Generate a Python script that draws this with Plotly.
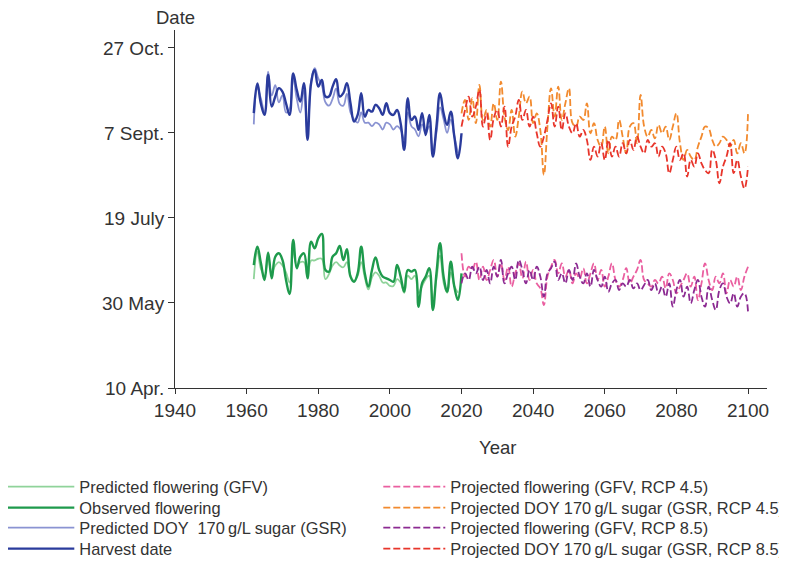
import plotly.graph_objects as go

# ---------------- data (DOY values) ----------------
hist_years = list(range(1962, 2020))
harvest_years = list(range(1962, 2021))

harvest_date = [261.6, 279, 267, 260.6, 284, 265.5, 271.4, 276.3, 274.3, 267.4,
                260.6, 285, 275.3, 268.4, 279.2, 245.9, 279.2, 287, 277.2, 281.2,
                271.4, 271.4, 277.2, 281.6, 271.4, 273.4, 279.2, 267.4, 256.7, 260.6,
                273.4, 259.6, 263.5, 262.5, 266.5, 264.5, 260.6, 267.4, 261.6, 260.6,
                263.5, 255.7, 240, 270.4, 257.6, 259.6, 251.8, 261.6, 248.8, 260.6,
                236.1, 253.7, 273.4, 261.6, 254.7, 262.5, 247.8, 235.1, 249.8]

predicted_gsr = [255, 276, 270, 262, 286, 272, 278, 268, 272, 262,
                 264, 282, 270, 262, 275, 250, 280, 288, 282, 278,
                 268, 266, 270, 276, 267, 266, 273, 262, 258, 256,
                 262, 256, 256, 254, 256, 255, 252, 256, 255, 252,
                 254, 252, 246, 262, 254, 252, 248, 255, 250, 254,
                 240, 250, 265, 258, 250, 258, 248, 238]

observed_flowering = [172.3, 183.1, 173.3, 163.5, 179.6, 164.5, 177.2, 179.2, 175.3, 163.5,
                      155.3, 187, 170.4, 177.2, 179.2, 164.5, 186, 182.1, 188, 190.6,
                      169.4, 168.4, 177.2, 179.2, 183.5, 175.3, 181.6, 165.5, 162.5, 167.4,
                      183.1, 167.4, 159.6, 169.4, 176.8, 169.4, 165.5, 164.5, 163.5, 162.5,
                      172.3, 165.5, 156.7, 169.4, 168.4, 169.4, 147.8, 161.6, 165.5, 170.4,
                      145.9, 167.4, 185.1, 165.5, 156.7, 174.3, 159.6, 151.8, 167.4]

predicted_gfv = [164, 180, 170, 166, 176, 168, 172, 174, 172, 168,
                 162, 180, 172, 174, 174, 166, 175, 175, 176, 176,
                 164, 167, 172, 174, 172, 171, 174, 166, 163, 166,
                 174, 165, 158, 165, 168, 166, 162, 162, 160, 160,
                 164, 162, 156, 166, 164, 166, 156, 160, 164, 166,
                 152, 164, 178, 162, 156, 168, 160, 156]

proj_years = list(range(2020, 2101))

proj_gsr_45 = [261.5, 269.4, 257.6, 270.4, 255.7, 278.2, 257.6, 263.5, 253.7, 267.4,
               257.6, 280.2, 259.6, 251.7, 263.5, 247.8, 259.6, 274.3, 267.4, 271.3,
               255.7, 261.5, 251.7, 225.3, 253.7, 276.2, 259.6, 277.2, 257.6, 267.4,
               276.2, 255.7, 253.7, 259.6, 257.6, 267.4, 249.8, 255.7, 245.9, 241.9,
               253.7, 238.0, 247.8, 245.9, 257.6, 247.8, 238.0, 253.7, 255.7, 243.9,
               272.3, 253.7, 247.8, 251.7, 246.8, 254.7, 249.8, 253.7, 245.9, 253.7,
               261.5, 243.9, 234.1, 240.0, 236.1, 234.1, 241.9, 247.8, 253.7, 252.7,
               245.9, 241.9, 243.9, 247.8, 245.9, 241.9, 245.9, 238.0, 243.9, 238.0,
               261.5]

proj_gsr_85 = [253.7, 263.5, 271.3, 259.6, 265.5, 275.3, 253.7, 261.5, 245.9, 258.6,
               263.5, 253.7, 265.5, 241.9, 253.7, 259.6, 269.4, 257.6, 263.5, 253.7,
               259.6, 249.8, 241.9, 247.8, 257.6, 267.4, 253.7, 265.5, 251.7, 261.5,
               253.7, 249.8, 255.7, 247.8, 251.7, 245.9, 234.1, 241.9, 236.1, 243.9,
               234.1, 245.9, 236.1, 241.9, 236.1, 243.9, 238.0, 245.9, 240.0, 247.8,
               241.9, 238.0, 245.9, 241.9, 243.9, 236.1, 241.9, 238.0, 226.3, 234.1,
               241.9, 234.1, 238.0, 224.3, 234.1, 230.2, 238.0, 232.1, 228.2, 226.3,
               240.0, 234.1, 220.4, 230.2, 236.1, 243.9, 226.3, 234.1, 224.3, 217.4,
               230.2]

proj_gfv_45 = [179.2, 165.5, 171.3, 169.4, 174.3, 163.5, 171.3, 163.5, 169.4, 175.3,
               165.5, 173.3, 163.5, 171.3, 159.6, 167.4, 173.3, 164.5, 174.3, 163.5,
               169.4, 161.5, 158.6, 148.8, 165.5, 171.3, 175.3, 167.4, 173.3, 165.5,
               169.4, 161.5, 167.4, 164.5, 170.4, 161.5, 167.4, 173.3, 163.5, 169.4,
               159.6, 165.5, 173.3, 163.5, 159.6, 163.5, 170.4, 161.5, 165.5, 169.4,
               175.3, 163.5, 161.5, 159.6, 163.5, 161.5, 165.5, 158.6, 167.4, 163.5,
               155.7, 159.6, 163.5, 167.4, 159.6, 165.5, 151.7, 161.5, 173.3, 163.5,
               157.6, 165.5, 161.5, 167.4, 155.7, 163.5, 159.6, 165.5, 157.6, 165.5,
               171.3]

proj_gfv_85 = [161.5, 167.4, 163.5, 171.3, 167.4, 171.3, 163.5, 169.4, 161.5, 171.3,
               165.5, 175.3, 161.5, 167.4, 171.3, 163.5, 175.3, 169.4, 161.5, 169.4,
               163.5, 171.3, 165.5, 153.7, 167.4, 170.4, 174.3, 163.5, 167.4, 161.5,
               169.4, 163.5, 173.3, 165.5, 161.5, 167.4, 159.6, 169.4, 163.5, 159.6,
               165.5, 156.6, 161.5, 163.5, 157.6, 161.5, 159.6, 163.5, 158.6, 161.5,
               157.6, 160.6, 163.5, 157.6, 161.5, 155.7, 159.6, 153.7, 161.5, 147.8,
               157.6, 163.5, 153.7, 159.6, 149.8, 157.6, 163.5, 153.7, 147.8, 159.6,
               151.7, 145.9, 157.6, 161.5, 153.7, 149.8, 155.7, 147.8, 153.7, 155.7,
               144.9]

y_tickvals = [100, 150, 200, 250, 300]
y_ticktext = ["10 Apr.", "30 May", "19 July", "7 Sept.", "27 Oct."]
x_tickvals = [1940, 1960, 1980, 2000, 2020, 2040, 2060, 2080, 2100]

# ---------------- styles ----------------
FONT = "Liberation Sans, Arial, Helvetica, sans-serif"
TXT = "#333333"
AX = "#333333"
DASH = "7px,3px"

fig = go.Figure()

def add(x, y, name, color, width, dash, legend):
    fig.add_trace(go.Scatter(
        x=x, y=y, name=name, mode="lines",
        line=dict(color=color, width=width, dash=dash, shape="spline", smoothing=1.2),
        legend=legend,
    ))

# draw order: light predicted under dark observed
add(hist_years, predicted_gfv, "Predicted flowering (GFV)", "#8fd39a", 1.8, None, "legend")
add(harvest_years, observed_flowering, "Observed flowering", "#1e9a4c", 2.4, None, "legend2")
add(hist_years, predicted_gsr, "Predicted DOY  170\u2009g/L sugar (GSR)", "#8a93d2", 1.8, None, "legend3")
add(harvest_years, harvest_date, "Harvest date", "#2a3b9c", 2.4, None, "legend4")

add(proj_years, proj_gfv_45, "Projected flowering (GFV, RCP 4.5)", "#ea5fa0", 1.8, DASH, "legend5")
add(proj_years, proj_gsr_45, "Projected DOY 170\u2009g/L sugar (GSR, RCP 4.5)", "#f28a2e", 1.8, DASH, "legend6")
add(proj_years, proj_gfv_85, "Projected flowering (GFV, RCP 8.5)", "#8c2a92", 1.8, DASH, "legend7")
add(proj_years, proj_gsr_85, "Projected DOY 170\u2009g/L sugar (GSR, RCP 8.5)", "#e8352b", 1.8, DASH, "legend8")

XR = [1940, 2105.3]
YR = [100, 310.5]

# legend rows (paper coordinates relative to the plot area)
row_y = [-0.2765, -0.3352, -0.3911, -0.4497]
left_x, right_x = -0.2934, 0.3434

def leg(x, y, iw):
    return dict(x=x, y=y, xanchor="left", yanchor="middle", orientation="v",
                font=dict(family=FONT, size=16.4, color=TXT),
                bgcolor="rgba(0,0,0,0)", itemwidth=iw, itemclick=False,
                itemdoubleclick=False)

legends = {}
for i, y in enumerate(row_y):
    legends["legend" if i == 0 else f"legend{i + 1}"] = leg(left_x, y, 68)
    legends[f"legend{i + 5}"] = leg(right_x, y, 62)

fig.update_layout(
    width=779, height=553,
    margin=dict(l=167, r=20, t=22, b=173, autoexpand=False),
    paper_bgcolor="white", plot_bgcolor="white",
    font=dict(family=FONT, size=19, color=TXT),
    showlegend=True,
    xaxis=dict(range=XR, tickvals=x_tickvals, ticks="outside", ticklen=5,
               tickcolor=AX, linecolor=AX, showline=True, showgrid=False,
               zeroline=False, tickfont=dict(size=19, color=TXT)),
    yaxis=dict(range=YR, tickvals=y_tickvals, ticktext=y_ticktext, ticks="outside",
               ticklen=6, tickcolor=AX, linecolor=AX, showline=True, showgrid=False,
               zeroline=False, tickfont=dict(size=19, color=TXT)),
    xaxis2=dict(range=XR, tickvals=x_tickvals, ticks="inside", ticklen=5, tickcolor=AX,
                overlaying="x", showticklabels=False, showgrid=False, zeroline=False,
                showline=False),
    yaxis2=dict(range=YR, tickvals=y_tickvals, ticks="inside", ticklen=6, tickcolor=AX,
                overlaying="y", showticklabels=False, showgrid=False, zeroline=False,
                showline=False),
    annotations=[
        dict(text="Date", xref="paper", yref="paper", x=0, y=1, xanchor="center",
             yanchor="bottom", yshift=0, showarrow=False,
             font=dict(family=FONT, size=18.5, color=TXT)),
        dict(text="Year", xref="x", yref="paper", x=2030, y=0, xanchor="center",
             yanchor="middle", yshift=-59, showarrow=False,
             font=dict(family=FONT, size=18.5, color=TXT)),
    ],
    **legends,
)

fig.write_html("out.html")
